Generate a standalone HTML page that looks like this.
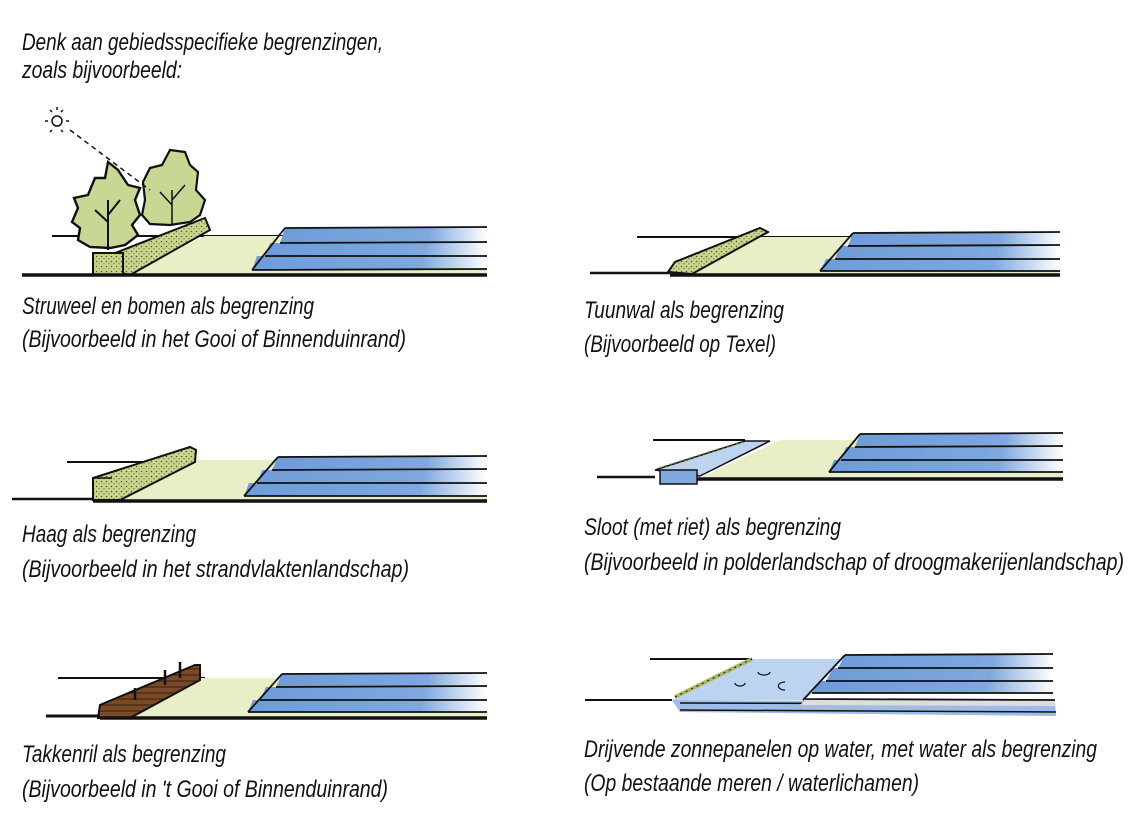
<!DOCTYPE html>
<html><head><meta charset="utf-8"><style>
html,body{margin:0;padding:0;background:#fff;}
svg{display:block;}
text{font-family:"Liberation Sans",sans-serif;font-style:italic;font-size:24px;fill:#111;}
</style></head><body>
<svg width="1148" height="822" viewBox="0 0 1148 822" xmlns="http://www.w3.org/2000/svg">
<defs>
<linearGradient id="bl" x1="0" x2="1" y1="0" y2="0">
<stop offset="0" stop-color="#6f9cd9"/><stop offset="0.72" stop-color="#7ea8de"/><stop offset="1" stop-color="#ffffff"/>
</linearGradient>
<pattern id="dots" width="5" height="5" patternUnits="userSpaceOnUse">
<rect width="5" height="5" fill="#c9d78e"/><circle cx="1.5" cy="1.5" r="0.8" fill="#4a5a2a"/><circle cx="4" cy="3.8" r="0.6" fill="#4a5a2a"/>
</pattern>
<pattern id="wood" width="8" height="6" patternUnits="userSpaceOnUse">
<rect width="8" height="6" fill="#7a4a27"/><line x1="0" y1="3" x2="8" y2="3" stroke="#3a2010" stroke-width="1"/>
</pattern>
</defs>

<text x="22" y="50" textLength="361" lengthAdjust="spacingAndGlyphs">Denk aan gebiedsspecifieke begrenzingen,</text>
<text x="22" y="78" textLength="160" lengthAdjust="spacingAndGlyphs">zoals bijvoorbeeld:</text>

<!-- Panel 1 -->
<g>
<line x1="52" y1="236" x2="290" y2="236" stroke="#111" stroke-width="2"/>
<polygon points="125,275 205,236 487,236 487,275" fill="#e8eec6"/>
<polygon points="285,228 487,228 487,243 280,243" fill="url(#bl)"/>
<polygon points="270,243 487,243 487,256 265,256" fill="url(#bl)"/>
<polygon points="257,256 487,256 487,270 252,270" fill="url(#bl)"/>
<path d="M285,228 L487,227 M280,243 L487,242 M265,256 L487,256 M252,270 L487,269 M285,228 L252,270" stroke="#111" stroke-width="1.8" fill="none"/>
<polygon points="110,270 110,255 205,218 210,230 130,275" fill="url(#dots)" stroke="#111" stroke-width="2"/>
<path d="M143,182 L150,168 L162,165 L170,150 L185,152 L190,165 L198,172 L196,190 L205,200 L200,215 L190,222 L170,225 L150,224 L142,215 L145,200 Z" fill="#c8d894" stroke="#111" stroke-width="2.2"/>
<path d="M172,225 L172,190 M172,205 L160,192 M172,200 L185,185" stroke="#111" stroke-width="1.5" fill="none"/>
<path d="M95,178 L105,178 L108,162 L118,170 L128,185 L140,188 L135,200 L140,215 L132,225 L138,235 L125,245 L110,248 L90,247 L78,240 L80,228 L72,222 L78,208 L74,198 L88,195 Z" fill="#c8d894" stroke="#111" stroke-width="2.4"/>
<path d="M108,250 L108,200 M108,222 L95,210 M108,215 L120,200" stroke="#111" stroke-width="2" fill="none"/>
<rect x="93" y="253" width="30" height="22" fill="url(#dots)" stroke="#111" stroke-width="2"/>
<circle cx="57" cy="121" r="5" fill="none" stroke="#111" stroke-width="1.5"/>
<path d="M45,121 h3 M66,121 h3 M50,110 l2,2 M63,110 l-2,2 M50,132 l2,-2 M63,132 l-2,-2 M57,107 v3" stroke="#111" stroke-width="1.5"/>
<line x1="70" y1="130" x2="150" y2="190" stroke="#111" stroke-width="1.5" stroke-dasharray="5,4"/>
<line x1="22" y1="275" x2="487" y2="275" stroke="#111" stroke-width="3.5"/>
</g>
<text x="22" y="314" textLength="292" lengthAdjust="spacingAndGlyphs">Struweel en bomen als begrenzing</text>
<text x="22" y="347" textLength="384" lengthAdjust="spacingAndGlyphs">(Bijvoorbeeld in het Gooi of Binnenduinrand)</text>

<!-- Panel 2 -->
<g>
<line x1="637" y1="237" x2="855" y2="237" stroke="#111" stroke-width="2"/>
<polygon points="668,274 760,237 1060,237 1060,274" fill="#e8eec6"/>
<polygon points="853,233 1060,232 1060,246 848,246" fill="url(#bl)"/>
<polygon points="840,246 1060,246 1060,259 835,259" fill="url(#bl)"/>
<polygon points="826,259 1060,259 1060,271 820,271" fill="url(#bl)"/>
<path d="M853,233 L1060,232 M848,246 L1060,245 M835,259 L1060,259 M820,271 L1060,271 M853,233 L820,271" stroke="#111" stroke-width="1.8" fill="none"/>
<polygon points="668,272 675,262 760,228 768,232 692,274" fill="url(#dots)" stroke="#111" stroke-width="2"/>
<line x1="590" y1="273" x2="670" y2="273" stroke="#111" stroke-width="2.5"/>
<line x1="670" y1="275" x2="1060" y2="275" stroke="#111" stroke-width="3.5"/>
</g>
<text x="584" y="318" textLength="200" lengthAdjust="spacingAndGlyphs">Tuunwal als begrenzing</text>
<text x="584" y="352" textLength="192" lengthAdjust="spacingAndGlyphs">(Bijvoorbeeld op Texel)</text>

<!-- Panel 3 -->
<g>
<line x1="67" y1="462" x2="200" y2="462" stroke="#111" stroke-width="2"/>
<polygon points="115,500 195,460 487,460 487,500" fill="#e8eec6"/>
<polygon points="278,457 487,456 487,470 272,470" fill="url(#bl)"/>
<polygon points="262,470 487,470 487,483 257,483" fill="url(#bl)"/>
<polygon points="249,483 487,483 487,496 244,496" fill="url(#bl)"/>
<path d="M278,457 L487,456 M272,470 L487,469 M257,483 L487,483 M244,496 L487,496 M278,457 L244,496" stroke="#111" stroke-width="1.8" fill="none"/>
<polygon points="93,500 93,478 190,447 196,450 195,462 120,500" fill="url(#dots)" stroke="#111" stroke-width="2"/>
<line x1="93" y1="478" x2="112" y2="478" stroke="#111" stroke-width="1.5"/>
<line x1="12" y1="499" x2="93" y2="499" stroke="#111" stroke-width="2.5"/>
<line x1="93" y1="501" x2="487" y2="501" stroke="#111" stroke-width="3.5"/>
</g>
<text x="22" y="542" textLength="174" lengthAdjust="spacingAndGlyphs">Haag als begrenzing</text>
<text x="22" y="577" textLength="387" lengthAdjust="spacingAndGlyphs">(Bijvoorbeeld in het strandvlaktenlandschap)</text>

<!-- Panel 4 -->
<g>
<line x1="653" y1="440" x2="745" y2="440" stroke="#111" stroke-width="2"/>
<polygon points="700,478 780,440 1063,440 1063,478" fill="#e8eec6"/>
<polygon points="655,470 745,441 770,441 700,476" fill="#bcd4ef" stroke="#111" stroke-width="1.5"/>
<path d="M660,468 L745,441" stroke="#5a6a30" stroke-width="2" stroke-dasharray="2,3"/>
<rect x="660" y="470" width="37" height="14" fill="#7ea8de" stroke="#111" stroke-width="1.5"/>
<polygon points="860,434 1063,433 1063,447 855,447" fill="url(#bl)"/>
<polygon points="846,447 1063,447 1063,460 841,460" fill="url(#bl)"/>
<polygon points="834,460 1063,460 1063,472 829,472" fill="url(#bl)"/>
<path d="M860,434 L1063,433 M855,447 L1063,446 M841,460 L1063,460 M829,472 L1063,472 M860,434 L829,472" stroke="#111" stroke-width="1.8" fill="none"/>
<line x1="597" y1="477" x2="655" y2="477" stroke="#111" stroke-width="2.5"/>
<line x1="697" y1="479" x2="1063" y2="479" stroke="#111" stroke-width="3.5"/>
</g>
<text x="584" y="535" textLength="257" lengthAdjust="spacingAndGlyphs">Sloot (met riet) als begrenzing</text>
<text x="584" y="570" textLength="540" lengthAdjust="spacingAndGlyphs">(Bijvoorbeeld in polderlandschap of droogmakerijenlandschap)</text>

<!-- Panel 5 -->
<g>
<line x1="58" y1="678" x2="205" y2="678" stroke="#111" stroke-width="2"/>
<polygon points="125,717 200,678 487,678 487,717" fill="#e8eec6"/>
<polygon points="282,674 487,673 487,687 276,687" fill="url(#bl)"/>
<polygon points="266,687 487,687 487,700 260,700" fill="url(#bl)"/>
<polygon points="253,700 487,700 487,712 248,712" fill="url(#bl)"/>
<path d="M282,674 L487,673 M276,687 L487,686 M260,700 L487,700 M248,712 L487,712 M282,674 L248,712" stroke="#111" stroke-width="1.8" fill="none"/>
<polygon points="98,718 100,705 195,665 200,665 200,680 130,718" fill="url(#wood)" stroke="#111" stroke-width="2"/>
<path d="M135,700 v-12 M165,685 v-15 M180,678 v-16" stroke="#111" stroke-width="2.5"/>
<line x1="46" y1="716" x2="100" y2="716" stroke="#111" stroke-width="3"/>
<line x1="100" y1="718" x2="487" y2="718" stroke="#111" stroke-width="3.5"/>
</g>
<text x="22" y="762" textLength="204" lengthAdjust="spacingAndGlyphs">Takkenril als begrenzing</text>
<text x="22" y="797" textLength="366" lengthAdjust="spacingAndGlyphs">(Bijvoorbeeld in 't Gooi of Binnenduinrand)</text>

<!-- Panel 6 -->
<g>
<line x1="650" y1="659" x2="752" y2="659" stroke="#111" stroke-width="2"/>
<polygon points="672,700 752,659 842,659 805,700" fill="#bcd4ef"/>
<polygon points="672,700 1055,702 1056,716 680,712" fill="#9dbde6"/>
<path d="M680,703 L1055,704 M680,710 L1056,712" stroke="#111" stroke-width="1.5"/>
<polygon points="805,700 1055,700 1055,706 800,705" fill="#ddd"/>
<path d="M675,697 L752,659" stroke="#a8b860" stroke-width="4"/>
<path d="M675,697 L752,659" stroke="#111" stroke-width="1" stroke-dasharray="2,4"/>
<polygon points="845,655 1053,654 1053,668 838,668" fill="url(#bl)"/>
<polygon points="833,668 1053,668 1053,681 826,681" fill="url(#bl)"/>
<polygon points="820,681 1053,681 1053,693 812,693" fill="url(#bl)"/>
<path d="M845,655 L1053,654 M838,668 L1053,668 M826,681 L1053,681 M812,693 L1053,693 M805,699 L1055,700 M845,655 L803,700" stroke="#111" stroke-width="1.8" fill="none"/>
<path d="M735,683 a5,3 0 1 0 10,0 M758,672 a6,3 0 1 0 12,0 M785,690 a5,3 0 0 1 0,-8" stroke="#111" stroke-width="1.2" fill="none"/>
<line x1="585" y1="700" x2="672" y2="700" stroke="#111" stroke-width="2"/>
</g>
<text x="584" y="757" textLength="513" lengthAdjust="spacingAndGlyphs">Drijvende zonnepanelen op water, met water als begrenzing</text>
<text x="584" y="791" textLength="335" lengthAdjust="spacingAndGlyphs">(Op bestaande meren / waterlichamen)</text>
</svg>
</body></html>
